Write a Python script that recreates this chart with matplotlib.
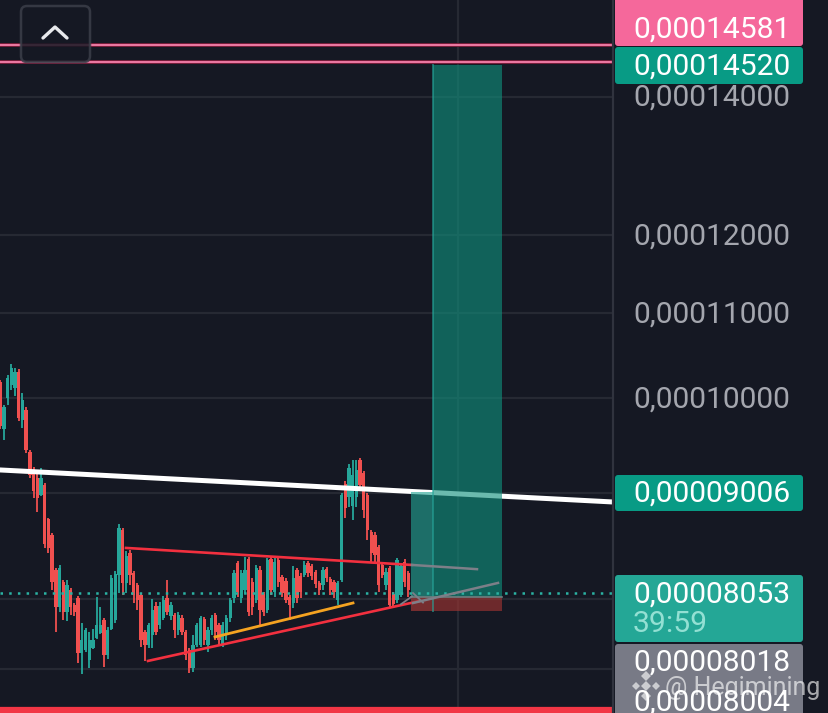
import numpy as np
import matplotlib
matplotlib.use("Agg")
import matplotlib.pyplot as plt
from matplotlib.patches import FancyBboxPatch, Polygon

# candles, one value per bar (prices x 1e-8 of the quote)
opens = [10180, 9670, 10000, 10146, 10112, 10295, 9758, 9867, 9416, 9229, 9147, 8975, 9076, 8738, 8584, 8256,
         7923, 8147, 7879, 8074, 7941, 8003, 7527, 7552, 7469, 7569, 7654, 7697, 7809, 7510, 7732, 7809,
         8210, 8632, 8138, 8414, 8229, 8120, 8030, 7706, 7595, 7680, 7932, 7766, 7827, 8003, 7844, 7853,
         7723, 7827, 7706, 7552, 7402, 7595, 7595, 7818, 7595, 7723, 7853, 7766, 7595, 7680, 7827, 8003,
         8320, 8003, 8074, 8358, 8147, 7985, 8256, 8038, 7896, 8358, 8056, 8348, 8192, 8156, 8012, 7958,
         8256, 8201, 8210, 8320, 8293, 8238, 8138, 8120, 8265, 8174, 8147, 7985, 8165, 9086, 8955, 8875,
         8955, 9332, 9198, 8975, 8613, 8584, 8470, 8302, 8120, 8275, 8038, 7985, 8030, 8330, 8229]
closes = [9703, 9900, 10226, 10340, 10295, 9780, 9978, 9437, 9178, 9024, 8945, 9147, 8498, 8461, 8147, 7923,
          8275, 7879, 8120, 7923, 7879, 7527, 7637, 7723, 7637, 7637, 7766, 7766, 7510, 7723, 8183, 8220,
          8660, 8138, 8386, 8210, 8030, 7985, 7637, 7595, 7766, 7896, 7706, 7932, 7985, 7879, 7941, 7723,
          7853, 7706, 7510, 7402, 7595, 7766, 7827, 7637, 7723, 7827, 7706, 7637, 7766, 7827, 7985, 8229,
          8056, 8229, 8256, 7879, 7923, 8275, 7896, 7879, 8348, 8074, 8330, 8147, 8047, 7985, 7941, 8183,
          8003, 8056, 8302, 8229, 8201, 8129, 8074, 8256, 8183, 8074, 8056, 8138, 8975, 8846, 9250, 9178,
          9229, 9076, 8826, 8632, 8414, 8395, 8120, 8210, 8238, 7941, 7950, 8348, 8293, 8147, 8074]
highs = [10203, 9933, 10260, 10387, 10340, 10330, 10056, 9900, 9437, 9260, 9198, 9250, 9096, 8757, 8603, 8275,
         8302, 8165, 8165, 8092, 7958, 8021, 7783, 7740, 7706, 7732, 8012, 7923, 7827, 7749, 8210, 8247,
         8693, 8656, 8433, 8442, 8247, 8138, 8047, 7723, 7783, 7994, 7967, 7967, 8021, 8165, 7967, 7870,
         7879, 7853, 7723, 7569, 7680, 7783, 7844, 7836, 7749, 7853, 7870, 7783, 7792, 7853, 8003, 8256,
         8339, 8256, 8377, 8377, 8183, 8302, 8293, 8056, 8367, 8377, 8367, 8377, 8210, 8183, 8030, 8293,
         8275, 8229, 8339, 8339, 8311, 8256, 8156, 8284, 8284, 8192, 8165, 8156, 8995, 9116, 9291, 9342,
         9332, 9353, 9219, 8995, 8632, 8613, 8489, 8320, 8275, 8293, 8056, 8367, 8320, 8358, 8247]
lows = [9670, 9543, 9922, 10090, 10033, 9747, 9680, 9406, 9147, 8945, 8807, 8965, 8461, 8414, 8074, 7706,
        7878, 7809, 7800, 7853, 7844, 7444, 7353, 7535, 7402, 7560, 7650, 7690, 7410, 7477, 7725, 7783,
        8047, 8030, 8047, 8120, 7958, 7896, 7578, 7460, 7569, 7569, 7680, 7732, 7809, 7853, 7809, 7654,
        7680, 7680, 7469, 7360, 7370, 7578, 7578, 7595, 7535, 7680, 7637, 7595, 7578, 7637, 7792, 7958,
        8012, 7958, 8047, 7844, 7853, 7958, 7766, 7844, 7870, 8030, 8012, 8101, 8012, 7958, 7809, 7914,
        7958, 8003, 8192, 8192, 8165, 8092, 8030, 8074, 8147, 8030, 8003, 7941, 8147, 8748, 8856, 8728,
        8856, 9024, 8757, 8536, 8330, 8330, 8056, 8183, 8074, 7923, 7923, 7958, 8012, 8101, 8012]

grid_prices = [14000, 12000, 11000, 10000, 9000, 8000, 7400]
axis_labels = ["0,00014000", "0,00012000", "0,00011000", "0,00010000"]
axis_label_rows = [96, 235, 313, 398]

BG = "#151823"
UP = "#26a69a"
DOWN = "#f0504f"
PX_PER_BAR = 3.71
W, H = 829, 713
PANEL = 613


def bar_at(px):
    return px / PX_PER_BAR


fig = plt.figure(figsize=(W / 100, H / 100), dpi=100, facecolor=BG)
ax = fig.add_axes([0, 0, 1, 1], facecolor=BG)
ax.set_yscale("log")
ax.set_xlim(0, W / PX_PER_BAR)
ax.set_ylim(7042, 15594)
ax.axis("off")
panel_x = bar_at(PANEL)

# grid
ax.hlines(grid_prices, 0, panel_x, color="#262933", lw=1.6, zorder=1)
ax.plot([bar_at(458)] * 2, [7042, 15594], color="#262933", lw=1.6, zorder=1)

# candles
x = np.arange(len(opens)) + 0.05
o, c, h, l = map(np.array, (opens, closes, highs, lows))
colors = np.where(c >= o, UP, DOWN)
ax.vlines(x, l, h, color=colors, lw=1.3, zorder=3)
ax.bar(x, np.abs(c - o), bottom=np.minimum(o, c), width=0.9, color=colors, lw=0, zorder=3)

# horizontal levels
for level in [14830, 14553]:
    ax.plot([0, panel_x], [level, level], color="#7a1f3c", lw=2.8, zorder=2)
    ax.plot([0, panel_x], [level, level], color="#ee7aa3", lw=1.4, zorder=2)
ax.plot([0, panel_x], [8053, 8053], color="#2bb3a3", lw=1.8, ls=(0, (1, 2.48)), zorder=6)
ax.plot([0, panel_x], [7066, 7066], color="#f23645", lw=4.5, solid_capstyle="butt", zorder=6)
ax.plot([0, panel_x], [9234, 8910], color="white", lw=3.6, zorder=4)

# drawn trendlines
ax.plot([bar_at(126), bar_at(412)], [8465, 8306], color="#f2303f", lw=1.9, zorder=4)
ax.plot([bar_at(412), bar_at(477)], [8306, 8267], color="#7d7f88", lw=1.8, zorder=7)
ax.plot([bar_at(148), bar_at(420)], [7463, 7979], color="#f2303f", lw=1.9, zorder=4)
ax.plot([bar_at(413), bar_at(498)], [7961, 8141], color="#7d7f88", lw=1.8, zorder=7)
ax.plot([bar_at(215), bar_at(353)], [7665, 7961], color="#f5a321", lw=2.0, zorder=4)
ax.plot([bar_at(401), bar_at(412)], [7950, 8020], color="#7d7f88", lw=1.3, zorder=7)
ax.plot([bar_at(413), bar_at(423)], [8050, 7965], color="#7d7f88", lw=1.3, zorder=7)

# long position boxes
ax.fill_between([bar_at(433), bar_at(502)], 8015, 14503, color="#10907c", alpha=0.62, lw=0, zorder=5)
ax.fill_between([bar_at(411), bar_at(433)], 8015, 9010, color="#22a493", alpha=0.62, lw=0, zorder=5)
ax.fill_between([bar_at(411), bar_at(433)], 7891, 8015, color="#b23a38", alpha=0.62, lw=0, zorder=5)
ax.fill_between([bar_at(433), bar_at(502)], 7891, 8015, color="#a43532", alpha=0.62, lw=0, zorder=5)
ax.plot([bar_at(433)] * 2, [7891, 14503], color=UP, lw=1.4, alpha=0.6, zorder=5)
ax.plot([bar_at(411), bar_at(502)], [8015, 8015], color="#6f7f80", lw=1.2, zorder=5)

# price panel, drawn in pixels on top
ui = fig.add_axes([0, 0, 1, 1], facecolor="none", zorder=10)
ui.set_xlim(0, W)
ui.set_ylim(H, 0)
ui.axis("off")
ui.fill_between([PANEL, W], 0, H, color=BG, lw=0, zorder=0)
ui.plot([PANEL, PANEL], [0, H], color="#30333e", lw=1.6, zorder=1)


def chip(top, bottom, color):
    ui.add_patch(FancyBboxPatch((615, top), 188, bottom - top, boxstyle="round,pad=0,rounding_size=3",
                                fc=color, ec="none", zorder=2))


def label(y, text, color="white", alpha=1.0):
    ui.text(633, y + 1.5, text, color=color, alpha=alpha, fontsize=21.6, family="Roboto",
            va="center", ha="left", zorder=3)


chip(-10, 46, "#f5689b")
chip(47, 84, "#089b85")
chip(475, 511, "#089b85")
chip(644, 723, "#787a86")
chip(575, 642, "#24a796")
for row, text in zip(axis_label_rows, axis_labels):
    label(row, text, color="#a4a6ae")
label(28, "0,00014581")
label(65, "0,00014520")
label(492, "0,00009006")
label(593, "0,00008053")
label(623, "39:59", color="#93e0d3")
label(661, "0,00008018")
label(701, "0,00008004")

# collapse button
ui.add_patch(FancyBboxPatch((21, 6), 69, 56, boxstyle="round,pad=0,rounding_size=6",
                            fc=BG, ec="#3b3e49", lw=1.8, alpha=0.85, zorder=4))
ui.plot([43, 55, 67], [38, 27, 38], color="#e8e9ec", lw=2.4, solid_capstyle="round", zorder=5)

# watermark
ui.text(665, 688, "@ Hegimining", color="white", alpha=0.62, fontsize=18, family="Roboto", va="center", zorder=6)
for cx, cy, r in [(646, 676, 5), (646, 696, 5), (636, 686, 4), (656, 686, 4), (646, 686, 5)]:
    ui.add_patch(Polygon([(cx - r, cy), (cx, cy - r), (cx + r, cy), (cx, cy + r)], closed=True,
                         fc="white", alpha=0.62, ec="none", zorder=6))

fig.savefig("out.png", dpi=100, facecolor=BG)
